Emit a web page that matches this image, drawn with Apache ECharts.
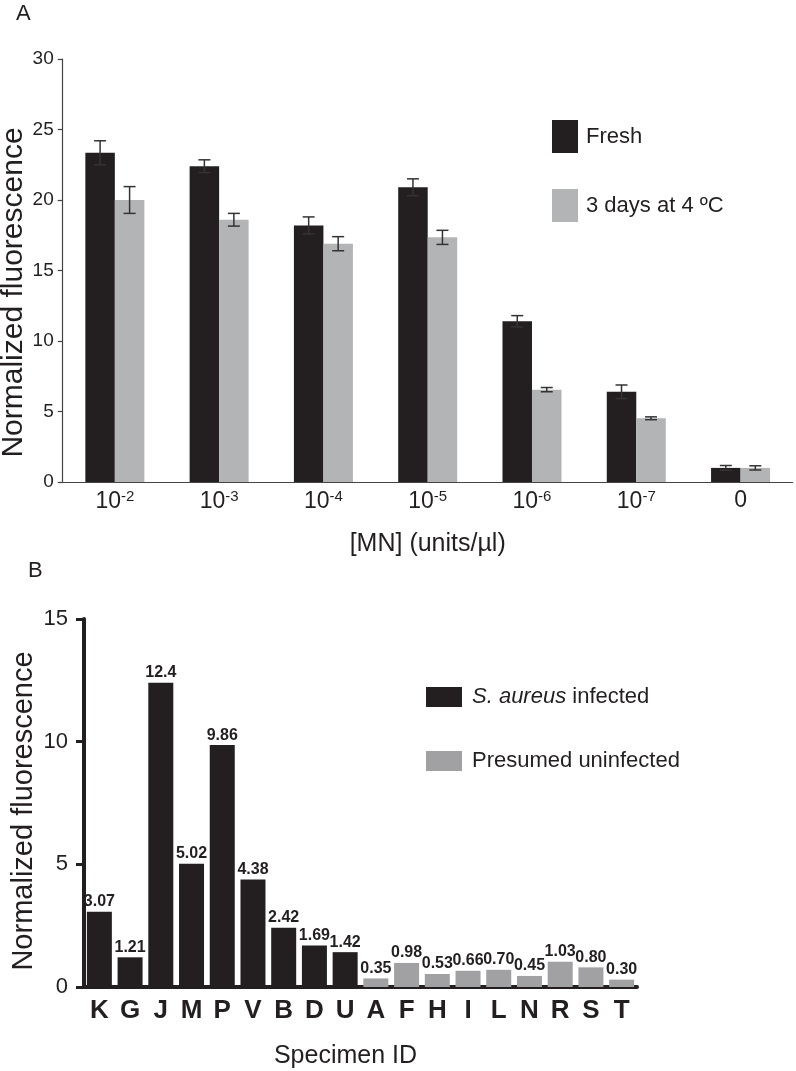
<!DOCTYPE html>
<html>
<head>
<meta charset="utf-8">
<script src="https://cdn.jsdelivr.net/npm/echarts@6/dist/echarts.min.js"></script>
<style>
  html, body { margin: 0; padding: 0; background: #fff; }
  #chart { width: 796px; height: 1071px; }
</style>
</head>
<body>
<div id="chart"></div>
<script>
// panel A: MN dilution series
const concentrations = ['10^-2', '10^-3', '10^-4', '10^-5', '10^-6', '10^-7', '0'];
const freshMean = [23.35, 22.4, 18.2, 20.9, 11.4, 6.4, 1.0];
const freshErr = [0.85, 0.45, 0.6, 0.6, 0.4, 0.48, 0.17];
const storedMean = [20.0, 18.6, 16.9, 17.35, 6.55, 4.52, 1.0];
const storedErr = [0.95, 0.45, 0.5, 0.5, 0.15, 0.1, 0.15];
const yTicksA = { min: 0, max: 30, interval: 5 };

// panel B: specimens
const specimenIds = ['K', 'G', 'J', 'M', 'P', 'V', 'B', 'D', 'U', 'A', 'F', 'H', 'I', 'L', 'N', 'R', 'S', 'T'];
const specimenValues = [3.07, 1.21, 12.4, 5.02, 9.86, 4.38, 2.42, 1.69, 1.42, 0.35, 0.98, 0.53, 0.66, 0.70, 0.45, 1.03, 0.80, 0.30];
const specimenLabels = ['3.07', '1.21', '12.4', '5.02', '9.86', '4.38', '2.42', '1.69', '1.42', '0.35', '0.98', '0.53', '0.66', '0.70', '0.45', '1.03', '0.80', '0.30'];
const infectedCount = 9;
const yTicksB = { min: 0, max: 15, interval: 5 };

const FONT = '"Liberation Sans", Arial, Helvetica, sans-serif';
const INK = '#231f20';
const BAR_A = 29.5;

const chart = echarts.init(document.getElementById('chart'));

function errorRender(offset) {
  return function (params, api) {
    const c = api.value(0), m = api.value(1), e = api.value(2);
    const top = api.coord([c, m + e]);
    const bot = api.coord([c, m - e]);
    const x = top[0] + offset;
    const hw = 6;
    const st = { stroke: '#333', lineWidth: 1.5 };
    return {
      type: 'group',
      children: [
        { type: 'line', shape: { x1: x, y1: top[1], x2: x, y2: bot[1] }, style: st },
        { type: 'line', shape: { x1: x - hw, y1: top[1], x2: x + hw, y2: top[1] }, style: st },
        { type: 'line', shape: { x1: x - hw, y1: bot[1], x2: x + hw, y2: bot[1] }, style: st }
      ]
    };
  };
}

const infectedData = specimenValues.map((v, i) => i < infectedCount ? v : '-');
const uninfectedData = specimenValues.map((v, i) => i >= infectedCount ? v : '-');

const option = {
  animation: false,
  backgroundColor: '#fff',
  textStyle: { fontFamily: FONT, color: INK },
  title: [
    { text: 'A', left: 16, top: 3, padding: 0, textStyle: { fontFamily: FONT, fontSize: 22, fontWeight: 'normal', color: INK } },
    { text: 'B', left: 28, top: 560, padding: 0, textStyle: { fontFamily: FONT, fontSize: 22, fontWeight: 'normal', color: INK } }
  ],
  legend: [
    {
      data: ['Fresh', '3 days at 4 ºC'],
      orient: 'vertical',
      left: 552, top: 120, padding: 0,
      itemWidth: 26, itemHeight: 33, itemGap: 36,
      icon: 'rect',
      textStyle: { fontFamily: FONT, fontSize: 22, color: INK, padding: [0, 0, 0, 3] }
    },
    {
      data: ['S. aureus infected', 'Presumed uninfected'],
      orient: 'vertical',
      left: 426, top: 686, padding: 0,
      itemWidth: 36, itemHeight: 20, itemGap: 42,
      icon: 'rect',
      formatter: function (name) {
        return name === 'S. aureus infected' ? '{i|S. aureus} infected' : name;
      },
      textStyle: {
        fontFamily: FONT, fontSize: 22, color: INK, padding: [0, 0, 0, 5],
        rich: { i: { fontFamily: FONT, fontSize: 22, fontStyle: 'italic', color: INK } }
      }
    }
  ],
  grid: [
    { left: 62.7, top: 59, width: 730, height: 423, outerBoundsMode: 'none' },
    { left: 84, top: 619, width: 553, height: 368, outerBoundsMode: 'none' }
  ],
  xAxis: [
    {
      gridIndex: 0,
      type: 'category',
      data: concentrations,
      name: '[MN] (units/µl)',
      nameLocation: 'middle',
      nameGap: 50,
      nameMoveOverlap: false,
      nameTextStyle: { fontFamily: FONT, fontSize: 25, color: INK },
      axisLine: { lineStyle: { color: '#444', width: 1.2 } },
      axisTick: { length: 7, lineStyle: { color: '#444', width: 1.2 } },
      axisLabel: {
        margin: 7,
        formatter: function (v) {
          const p = v.split('^');
          return p.length > 1 ? '{b|' + p[0] + '}{s|' + p[1] + '}' : '{b|' + v + '}';
        },
        rich: {
          b: { fontFamily: FONT, fontSize: 23, color: INK },
          s: { fontFamily: FONT, fontSize: 15, color: INK, padding: [0, 0, 10, 0] }
        }
      }
    },
    {
      gridIndex: 1,
      type: 'category',
      data: specimenIds,
      name: 'Specimen ID',
      nameLocation: 'middle',
      nameGap: 57,
      nameMoveOverlap: false,
      nameTextStyle: { fontFamily: FONT, fontSize: 25, color: INK, padding: [0, 30, 0, 0] },
      axisLine: { lineStyle: { color: INK, width: 4 } },
      axisTick: { alignWithLabel: true, length: 8, lineStyle: { color: INK, width: 4 } },
      axisLabel: { margin: 11, fontFamily: FONT, fontSize: 26, fontWeight: 'bold', color: INK }
    }
  ],
  yAxis: [
    {
      gridIndex: 0,
      type: 'value',
      min: yTicksA.min, max: yTicksA.max, interval: yTicksA.interval,
      name: 'Normalized fluorescence',
      nameLocation: 'middle',
      nameRotate: 90,
      nameGap: 34,
      nameMoveOverlap: false,
      nameTextStyle: { fontFamily: FONT, fontSize: 30, color: INK, padding: [0, 44, 0, 0] },
      splitLine: { show: false },
      axisLine: { show: true, lineStyle: { color: '#444', width: 1.2 } },
      axisTick: { show: true, length: 5, lineStyle: { color: '#444', width: 1.2 } },
      axisLabel: { margin: 9, fontFamily: FONT, fontSize: 19, color: INK }
    },
    {
      gridIndex: 1,
      type: 'value',
      min: yTicksB.min, max: yTicksB.max, interval: yTicksB.interval,
      name: 'Normalized fluorescence',
      nameLocation: 'middle',
      nameRotate: 90,
      nameGap: 46,
      nameMoveOverlap: false,
      nameTextStyle: { fontFamily: FONT, fontSize: 29, color: INK, padding: [0, 16, 0, 0] },
      splitLine: { show: false },
      axisLine: { show: true, lineStyle: { color: INK, width: 4 } },
      axisTick: { show: true, length: 8, lineStyle: { color: INK, width: 3 } },
      axisLabel: { margin: 16, fontFamily: FONT, fontSize: 22, color: INK }
    }
  ],
  series: [
    {
      name: 'Fresh', type: 'bar', xAxisIndex: 0, yAxisIndex: 0,
      data: freshMean, barWidth: BAR_A, barGap: '0%',
      itemStyle: { color: INK }
    },
    {
      name: '3 days at 4 ºC', type: 'bar', xAxisIndex: 0, yAxisIndex: 0,
      data: storedMean, barWidth: BAR_A, barGap: '0%',
      itemStyle: { color: '#b3b4b6' }
    },
    {
      type: 'custom', xAxisIndex: 0, yAxisIndex: 0, z: 5,
      renderItem: errorRender(-BAR_A / 2),
      data: freshMean.map((m, i) => [i, m, freshErr[i]])
    },
    {
      type: 'custom', xAxisIndex: 0, yAxisIndex: 0, z: 5,
      renderItem: errorRender(BAR_A / 2),
      data: storedMean.map((m, i) => [i, m, storedErr[i]])
    },
    {
      name: 'S. aureus infected', type: 'bar', xAxisIndex: 1, yAxisIndex: 1,
      data: infectedData, barWidth: 25, barGap: '-100%',
      itemStyle: { color: INK },
      label: {
        show: true, position: 'top', distance: 2,
        fontFamily: FONT, fontSize: 16, fontWeight: 'bold', color: INK,
        formatter: p => specimenLabels[p.dataIndex]
      }
    },
    {
      name: 'Presumed uninfected', type: 'bar', xAxisIndex: 1, yAxisIndex: 1,
      data: uninfectedData, barWidth: 25, barGap: '-100%',
      itemStyle: { color: '#a1a1a4' },
      label: {
        show: true, position: 'top', distance: 2,
        fontFamily: FONT, fontSize: 16, fontWeight: 'bold', color: INK,
        formatter: p => specimenLabels[p.dataIndex]
      }
    }
  ]
};

chart.setOption(option);
</script>
</body>
</html>
